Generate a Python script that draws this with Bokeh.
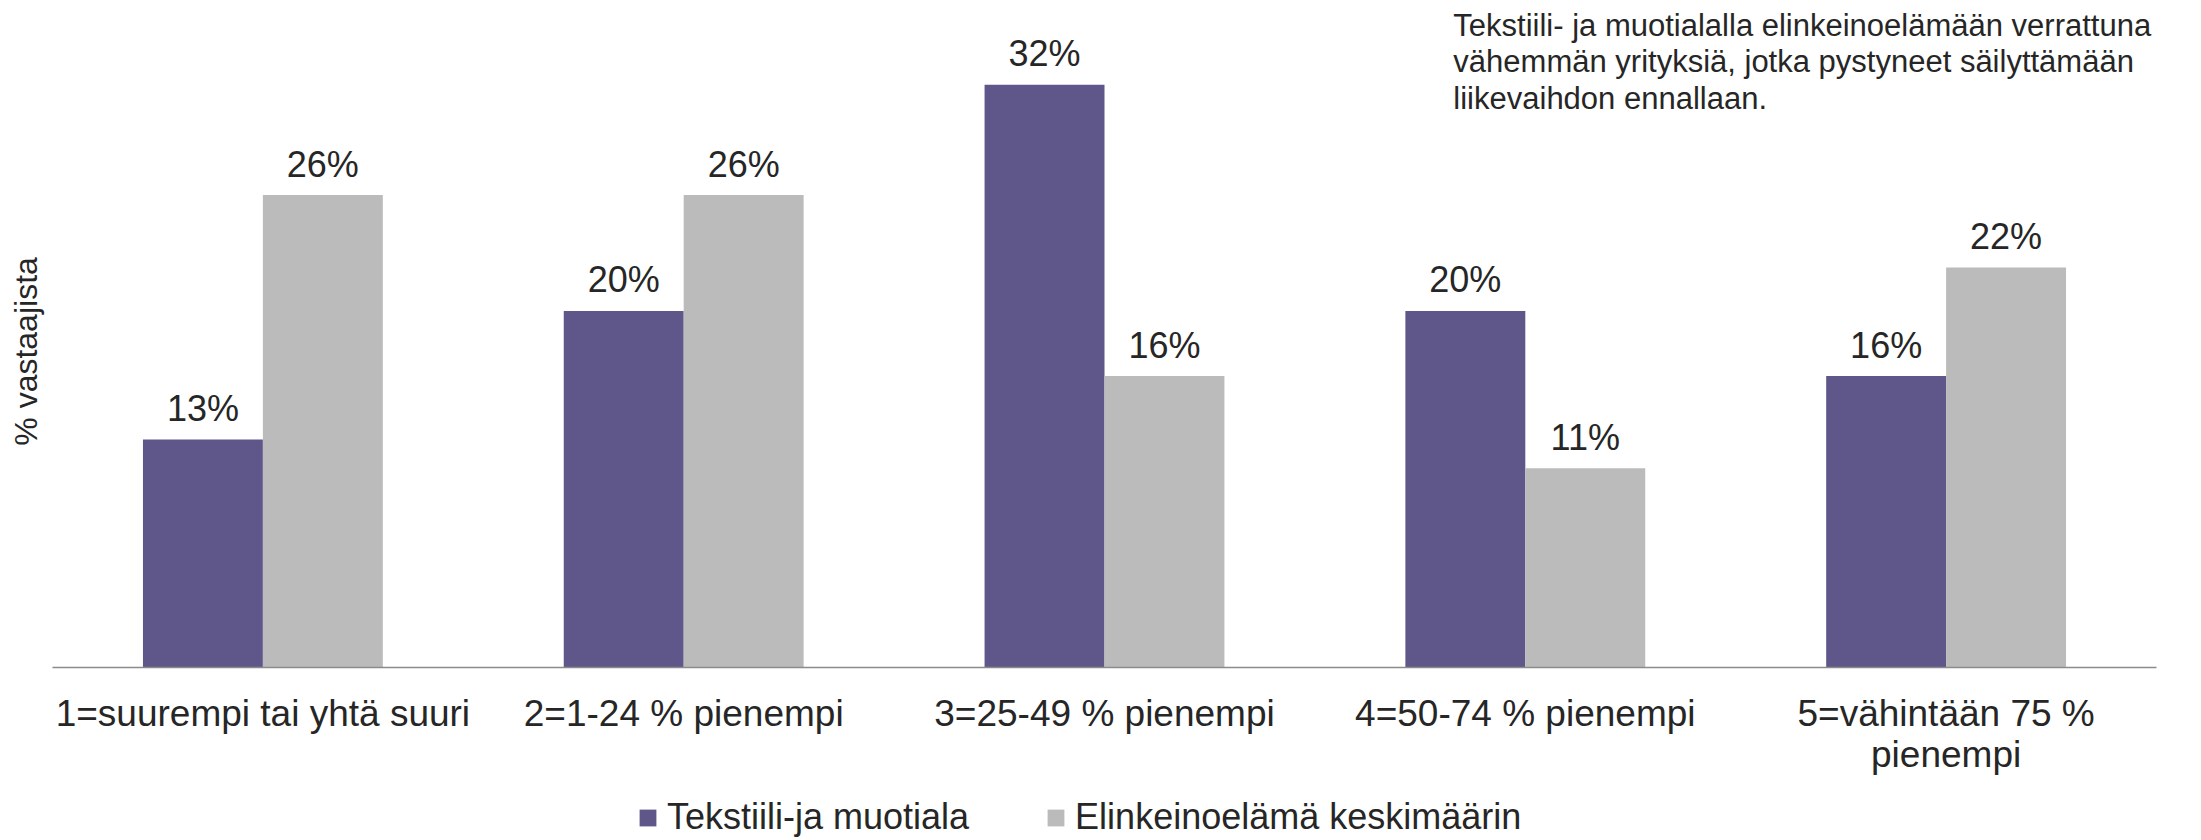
import math
from bokeh.plotting import figure
from bokeh.models import (ColumnDataSource, FactorRange, Range1d, Legend, LegendItem, Label)
from bokeh.transform import dodge
from bokeh.core.properties import value
from bokeh.embed import file_html
from bokeh.resources import INLINE

categories = ["1=suurempi tai yhtä suuri", "2=1-24 % pienempi", "3=25-49 % pienempi",
              "4=50-74 % pienempi", "5=vähintään 75 %\npienempi"]
series_names = ["Tekstiili-ja muotiala", "Elinkeinoelämä keskimäärin"]
tekstiili = [12.6, 19.7, 32.2, 19.7, 16.1]
keskimaarin = [26.1, 26.1, 16.1, 11.0, 22.1]
subtitle = ("Tekstiili- ja muotialalla elinkeinoelämään verrattuna\n"
            "vähemmän yrityksiä, jotka pystyneet säilyttämään\n"
            "liikevaihdon ennallaan.")
y_title = "% vastaajista"

PURPLE = "#5F5689"
GRAY = "#BBBBBB"
TEXT = "#262626"
FONT = "Liberation Sans"

def pct(v):
    return f"{int(v + 0.5)}%"

source = ColumnDataSource(dict(
    cat=categories,
    a=tekstiili,
    b=keskimaarin,
    a_lbl=[pct(v) for v in tekstiili],
    b_lbl=[pct(v) for v in keskimaarin],
))

# frame covers the canvas; axis drawn at y=0 inside it
p = figure(width=2201, height=840, output_backend="svg", toolbar_location=None,
           x_range=FactorRange(*categories, range_padding=0.1069, range_padding_units="absolute"),
           y_range=Range1d(-9.56, 36.85),
           min_border_left=7, min_border_right=0, min_border_top=0, min_border_bottom=0)
p.outline_line_color = None
p.xgrid.grid_line_color = None
p.ygrid.grid_line_color = None
p.yaxis.visible = False
p.background_fill_color = "white"
p.border_fill_color = "white"

W = 0.285
off = W / 2
ra = p.vbar(x=dodge("cat", -off, range=p.x_range), top="a", width=W, source=source,
            fill_color=PURPLE, line_color=None)
rb = p.vbar(x=dodge("cat", off, range=p.x_range), top="b", width=W, source=source,
            fill_color=GRAY, line_color=None)

for col, o in (("a", -off), ("b", off)):
    p.text(x=dodge("cat", o, range=p.x_range), y=col, text=col + "_lbl", source=source,
           text_align="center", text_baseline="middle", y_offset=-31,
           text_font=value(FONT), text_font_size="36px", text_color=TEXT)

xa = p.xaxis[0]
xa.fixed_location = 0
xa.bounds = (0, len(categories))
xa.axis_line_color = "#8B8B8B"
xa.axis_line_width = 1.5
xa.major_tick_line_color = None
xa.minor_tick_line_color = None
xa.major_tick_out = 0
xa.major_label_standoff = 26
xa.major_label_text_font = FONT
xa.major_label_text_font_size = "37px"
xa.major_label_text_color = TEXT
xa.major_label_text_line_height = 1.0

p.add_layout(Label(x=-0.064, y=17.46, text=y_title, angle=math.pi / 2,
                   text_align="center", text_baseline="middle",
                   text_font=FONT, text_font_size="32px", text_color=TEXT))

legend = Legend(items=[LegendItem(label=series_names[0], renderers=[ra]),
                       LegendItem(label=series_names[1], renderers=[rb])],
                location=(630, 2), orientation="horizontal",
                glyph_width=21, glyph_height=21, label_standoff=9, spacing=76,
                padding=0, margin=0, border_line_color=None, background_fill_alpha=0,
                label_text_font=FONT, label_text_font_size="36px", label_text_color=TEXT)
p.add_layout(legend)

p.add_layout(Label(x=3.329, y=36.45, text=subtitle, text_align="left", text_baseline="top",
                   text_font=FONT, text_font_size="31px", text_color=TEXT,
                   text_line_height=1.04))

open("out.html", "w").write(file_html(p, INLINE))
